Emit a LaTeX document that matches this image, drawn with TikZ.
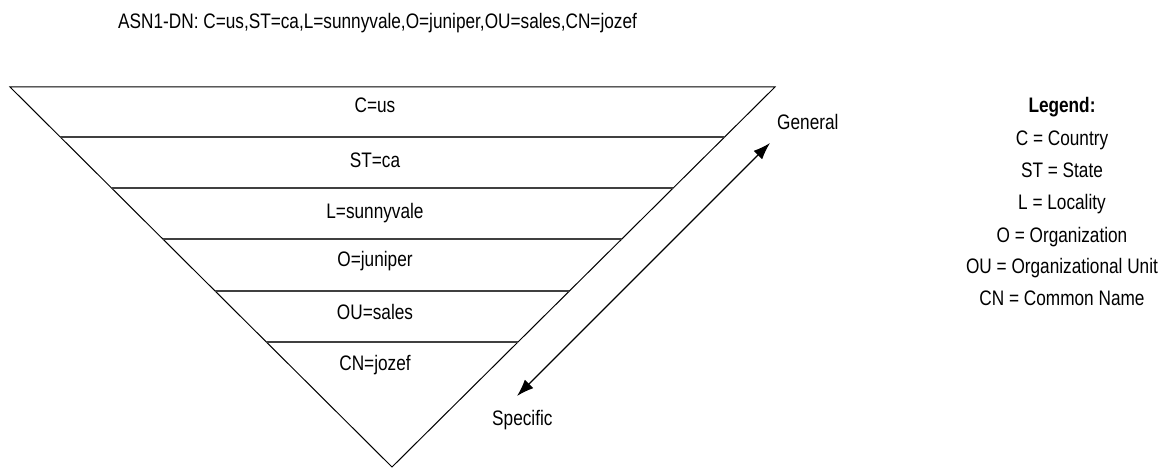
\documentclass[tikz,border=0pt]{standalone}
\usepackage{fontspec}
\setmainfont{Liberation Sans}[FakeStretch=0.82]
\usetikzlibrary{arrows.meta,positioning,calc}

\begin{document}
\begin{tikzpicture}[x=1pt,y=-1pt,
    lbl/.style={anchor=base,inner sep=0pt,font=\fontsize{21}{25}\selectfont},
    level/.style={line width=1.4pt,black!75}]
    \useasboundingbox (0,0) rectangle (1164,468);
    \node[lbl,anchor=base west] (dn) at (118,29) {ASN1-DN: C=us,ST=ca,L=sunnyvale,O=juniper,OU=sales,CN=jozef};
    \coordinate (tl) at (10,87);
    \coordinate (tr) at (775,87);
    \coordinate (bot) at (392,467);
    \draw[line width=1pt] (tl) -- (tr) -- (bot) -- cycle;
    \foreach \y [evaluate=\y as \t using (\y-87)/380] in {137,188,239,291,342}
        \draw[level] ($(tl)!\t!(bot)$) -- ($(tr)!\t!(bot)$);
    \node[lbl] (c) at (375,113) {C=us};
    \node[lbl] (st) at (375,167) {ST=ca};
    \node[lbl] (l) at (375,218) {L=sunnyvale};
    \node[lbl] (o) at (375,266) {O=juniper};
    \node[lbl] (ou) at (375,319) {OU=sales};
    \node[lbl] (cn) at (375,370) {CN=jozef};
    \coordinate (gen) at (770,143);
    \coordinate (spec) at (517,396);
    \draw[{Latex[length=17pt,width=12pt]}-{Latex[length=17pt,width=12pt]},line width=1.2pt] (spec) -- (gen);
    \node[lbl,anchor=base west] (general) at (777,130) {General};
    \node[lbl,anchor=base west] (specific) at (492,425) {Specific};
    \node[lbl] (legend) at (1062,113) {\bfseries Legend:};
    \node[lbl] (lc) at (1062,146) {C = Country};
    \node[lbl] (lst) at (1062,177) {ST = State};
    \node[lbl] (ll) at (1062,209) {L = Locality};
    \node[lbl] (lo) at (1062,242) {O = Organization};
    \node[lbl] (lou) at (1062,273) {OU = Organizational Unit};
    \node[lbl] (lcn) at (1062,305) {CN = Common Name};
\end{tikzpicture}
\end{document}
